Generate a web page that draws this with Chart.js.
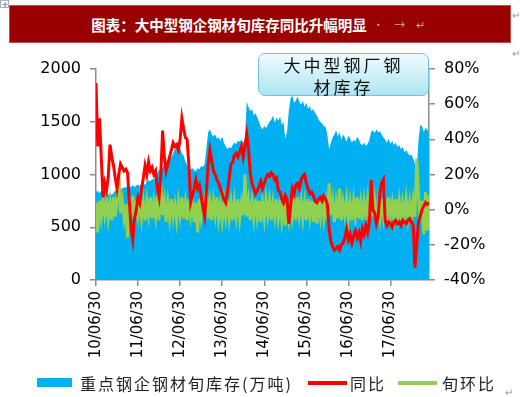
<!DOCTYPE html>
<html>
<head>
<meta charset="utf-8">
<script src="https://cdn.jsdelivr.net/npm/chart.js@4.4.1/dist/chart.umd.min.js"></script>
<style>
  html, body { margin: 0; padding: 0; background: #fff; }
  body { width: 520px; height: 397px; position: relative; overflow: hidden; font-family: "Noto Sans CJK SC", sans-serif; }
  #grafico { position: absolute; left: 0; top: 0; }
  .titulo { position: absolute; left: 9px; top: 5px; width: 500px; height: 36px; background: #990000; border: 1px solid #c0504d;
    display: flex; align-items: center; justify-content: center; color: #fff; font-weight: bold; font-size: 14.5px; }
  .titulo .marca { color: #c8a0a0; font-weight: normal; font-size: 11px; margin-left: 6px; letter-spacing: 4px; }
  .pilcrow { position: absolute; color: #9a9a9a; font-size: 10px; line-height: 10px; }
  .ancora { position: absolute; left: 0; top: 0; width: 7px; height: 6px; border: 1px solid #b0b0b0; color: #2a6fd0; font-size: 7px; line-height: 6px; text-align: center; }
  .caixa { position: absolute; left: 258px; top: 53px; width: 169px; height: 41px; border: 1.5px solid #6cc6dc; border-radius: 7px;
    background: linear-gradient(#f0fbfe, #aee4f2); text-align: center; font-size: 17px; line-height: 22px; letter-spacing: 3px; color: #111; }
  .legenda { position: absolute; top: 374px; left: 0; width: 520px; height: 20px; font-size: 16px; letter-spacing: 2px; color: #222; }
  .legenda span { position: absolute; top: 0; line-height: 18px; }
  .legenda i { position: absolute; display: block; }
</style>
</head>
<body>
<div class="ancora">✛</div>
<div class="titulo"><span>图表：大中型钢企钢材旬库存同比升幅明显</span><span class="marca">· → ↵</span></div>
<div class="pilcrow" style="left:512px;top:10px">↵</div>
<div class="pilcrow" style="left:512px;top:48px">↵</div>
<div class="pilcrow" style="left:505px;top:387px">↵</div>
<canvas id="grafico" width="520" height="397"></canvas>
<div class="caixa">大中型钢厂钢<br>材库存</div>
<div class="legenda">
  <i style="left:37px;top:4px;width:35px;height:9px;background:#00B0F0"></i>
  <span style="left:80px">重点钢企钢材旬库存(万吨)</span>
  <i style="left:308px;top:7px;width:39px;height:4px;background:#FF0000"></i>
  <span style="left:350px">同比</span>
  <i style="left:398px;top:7px;width:39px;height:4px;background:#92D050"></i>
  <span style="left:442px">旬环比</span>
</div>
<script>
// semi-monthly points from 10/06/30 (24 per year)
const pontosPorAno = 24;
const rotulosX = ['10/06/30', '11/06/30', '12/06/30', '13/06/30', '14/06/30', '15/06/30', '16/06/30', '17/06/30'];

// 重点钢企钢材旬库存 (万吨)
const estoque = [
  830, 845, 820, 850, 835, 840, 815, 810, 820, 805, 825, 850, 840, 860, 855, 870, 880,
  875, 890, 870, 885, 900, 880, 895, 905, 890, 910, 920, 900,
  930, 945, 935, 960, 950, 990, 1010, 1040, 1080, 1060, 1110, 1120, 1150, 1170, 1160,
  1200, 1240, 1260, 1230, 1250, 1200, 1180, 1120, 1090, 1070, 1050, 1060,
  1040, 1030, 1060, 1050, 1080, 1070, 1100, 1250, 1400, 1430, 1380,
  1360, 1380, 1340, 1350, 1320, 1360, 1300, 1270, 1240, 1260, 1250,
  1280, 1300, 1290, 1320, 1310, 1330, 1300, 1340, 1690, 1640, 1600, 1620, 1560, 1580, 1540, 1500,
  1450, 1430, 1460, 1440, 1470, 1500, 1520, 1560, 1490, 1540, 1510, 1550, 1470, 1500,
  1340, 1400, 1600, 1720, 1750, 1680, 1700, 1740,
  1690, 1660, 1700, 1640, 1680, 1620, 1650, 1600, 1620, 1580, 1560,
  1520, 1500, 1480, 1460, 1450, 1380, 1240, 1300,
  1350, 1380, 1420, 1360, 1400, 1330, 1380, 1350, 1310, 1370, 1340, 1300, 1330,
  1310, 1360, 1330, 1290, 1280, 1300, 1270, 1290, 1330,
  1400, 1420, 1390, 1430, 1400, 1410, 1380, 1350,
  1330, 1300, 1340, 1290, 1320, 1280, 1300, 1260,
  1280, 1240, 1260, 1210, 1230, 1200, 1180, 1190, 1150,
  1100, 1050, 1320, 1470, 1460, 1400, 1440, 1430, 1380
];

// 同比 (%)
const yoy = [
  72, 36, 52, 30, 7, 15, 11, 19, 37, 30, 25, 18, 12, 20, 26, 24, 22, 23, 21, 5,
  -10, -17, -5, 0, 7, 4, 12, 18, 25, 20, 27, 22, 24, 20, 22, 12, 7, 20, 45, 30,
  22, 26, 30, 34, 38, 36, 37, 34, 40, 52, 46, 41, 40, 25, 4, 8, 12, 17, 12, 14,
  8, 1, -4, 10, 25, 34, 28, 22, 20, 17, 15, 12, 9, 6, 4, 10, 18, 26, 27, 31,
  32, 30, 33, 36, 30, 36, 43, 35, 21, 15, 12, 9, 11, 13, 16, 12, 15, 18, 20, 19,
  21, 20, 17, 18, 11, 10, 6, 4, 8, 6, -8, 2, 12, 9, 14, 15, 12, 17, 19, 20,
  15, 12, 9, 10, 8, 5, 4, 6, 7, 5, 8, 6, 3, -11, -18, -21, -23, -22, -21, -23,
  -20, -19, -16, -11, -17, -14, -19, -15, -12, -16, -13, -18, -11, -14, -9, -13, -7, 17, 0, -2,
  -8, -4, 10, 15, 17, -6, -9, -7, -8, -10, -7, -6, -8, -7, -9, -6, -7, -8, -6, -5,
  -7, -9, -33, -20, -7, -4, 0, 2, 4, 3, 4
];

// 旬环比 (%)
const wow = [
  4, -13, 5, -4, 6, -3, 5, -5, 4, -6, 7, -4, 6, 21, -2, 5, -5, 3, -16, 6,
  -4, 8, -9, 5, -3, 6, -5, 4, -6, 5, -3, 7, -5, 4, -4, 8, -6, 15, -3, 5,
  -7, 4, -5, 6, -4, 3, -6, 5, -3, 7, -5, 4, -6, 6, -3, 5, -7, 4, -13, 6,
  -4, 5, 2, 13, -5, 4, -6, 5, -3, 7, -5, 3, -6, 5, -4, 6, -5, 4, -6, 5,
  -4, 6, -5, 4, -3, 20, -4, 5, -6, 4, -5, 6, -4, 5, -7, 4, -5, 6, -3, 5,
  -6, 4, -4, 6, -5, 3, -6, 5, -9, 4, -5, 6, -4, 5, -6, 7, -3, 5, -5, 4,
  -6, 6, -4, 5, -7, 4, -8, 5, -4, 6, -5, 4, -6, 15, -3, 5, -7, 4, -5, 12,
  -6, 4, -3, 6, -5, 4, -6, 5, -4, 7, -5, 4, -6, 5, -3, 6, -5, 17, -4, 5,
  -6, 4, -5, 6, -4, 5, -6, 7, -3, 4, -5, 6, -4, 5, -6, 4, -3, 6, -5, 4,
  -6, 5, -4, 29, 8, -6, 5, -14, 10, -12, 8
];

const corEixo = '#8c8c8c';
const fonteEixo = { family: 'DejaVu Sans', size: 16 };

function pontos(lista) {
    return lista.map((v, i) => ({ x: i, y: v }));
}

const grafico = document.getElementById('grafico');

new Chart(grafico, {
    type: 'line',
    data: {
        datasets: [
            {
                label: '同比',
                data: pontos(yoy),
                yAxisID: 'y2',
                borderColor: '#FF0000',
                borderWidth: 3,
                pointRadius: 0,
                order: 1
            },
            {
                label: '旬环比',
                data: pontos(wow),
                yAxisID: 'y2',
                borderColor: '#92D050',
                borderWidth: 3,
                pointRadius: 0,
                order: 2
            },
            {
                label: '重点钢企钢材旬库存(万吨)',
                data: pontos(estoque),
                yAxisID: 'y',
                fill: 'origin',
                backgroundColor: '#00B0F0',
                borderColor: '#00B0F0',
                borderWidth: 0,
                pointRadius: 0,
                order: 3
            }
        ]
    },
    options: {
        responsive: false,
        animation: false,
        layout: { padding: { top: 69, left: 0, right: 0, bottom: 0 } },
        plugins: {
            legend: { display: false },
            tooltip: { enabled: false }
        },
        scales: {
            x: {
                type: 'linear',
                min: 0,
                max: estoque.length - 1,
                afterBuildTicks: (s) => {
                    s.ticks = rotulosX.map((r, k) => ({ value: k * pontosPorAno }));
                },
                afterFit: (s) => { s.height = 117; },
                ticks: {
                    autoSkip: false,
                    minRotation: 90,
                    maxRotation: 90,
                    padding: 5,
                    color: '#000',
                    font: { family: 'DejaVu Sans', size: 15 },
                    callback: (v) => rotulosX[Math.round(v / pontosPorAno)]
                },
                grid: { drawOnChartArea: false, tickLength: 6, color: corEixo, lineWidth: 1.5 },
                border: { color: corEixo, width: 1.5 }
            },
            y: {
                position: 'left',
                min: 0,
                max: 2000,
                afterFit: (s) => { s.width = 96; },
                ticks: { stepSize: 500, padding: 9, color: '#000', font: fonteEixo, callback: (v) => String(v) },
                grid: { drawOnChartArea: false, tickLength: 6, color: corEixo, lineWidth: 1.5 },
                border: { color: corEixo, width: 1.5 }
            },
            y2: {
                position: 'right',
                min: -40,
                max: 80,
                afterFit: (s) => { s.width = 91; },
                ticks: { stepSize: 20, padding: 9, color: '#000', font: fonteEixo, callback: (v) => v + '%' },
                grid: { drawOnChartArea: false, tickLength: 6, color: corEixo, lineWidth: 1.5 },
                border: { color: corEixo, width: 1.5 }
            }
        }
    }
});
</script>
</body>
</html>
